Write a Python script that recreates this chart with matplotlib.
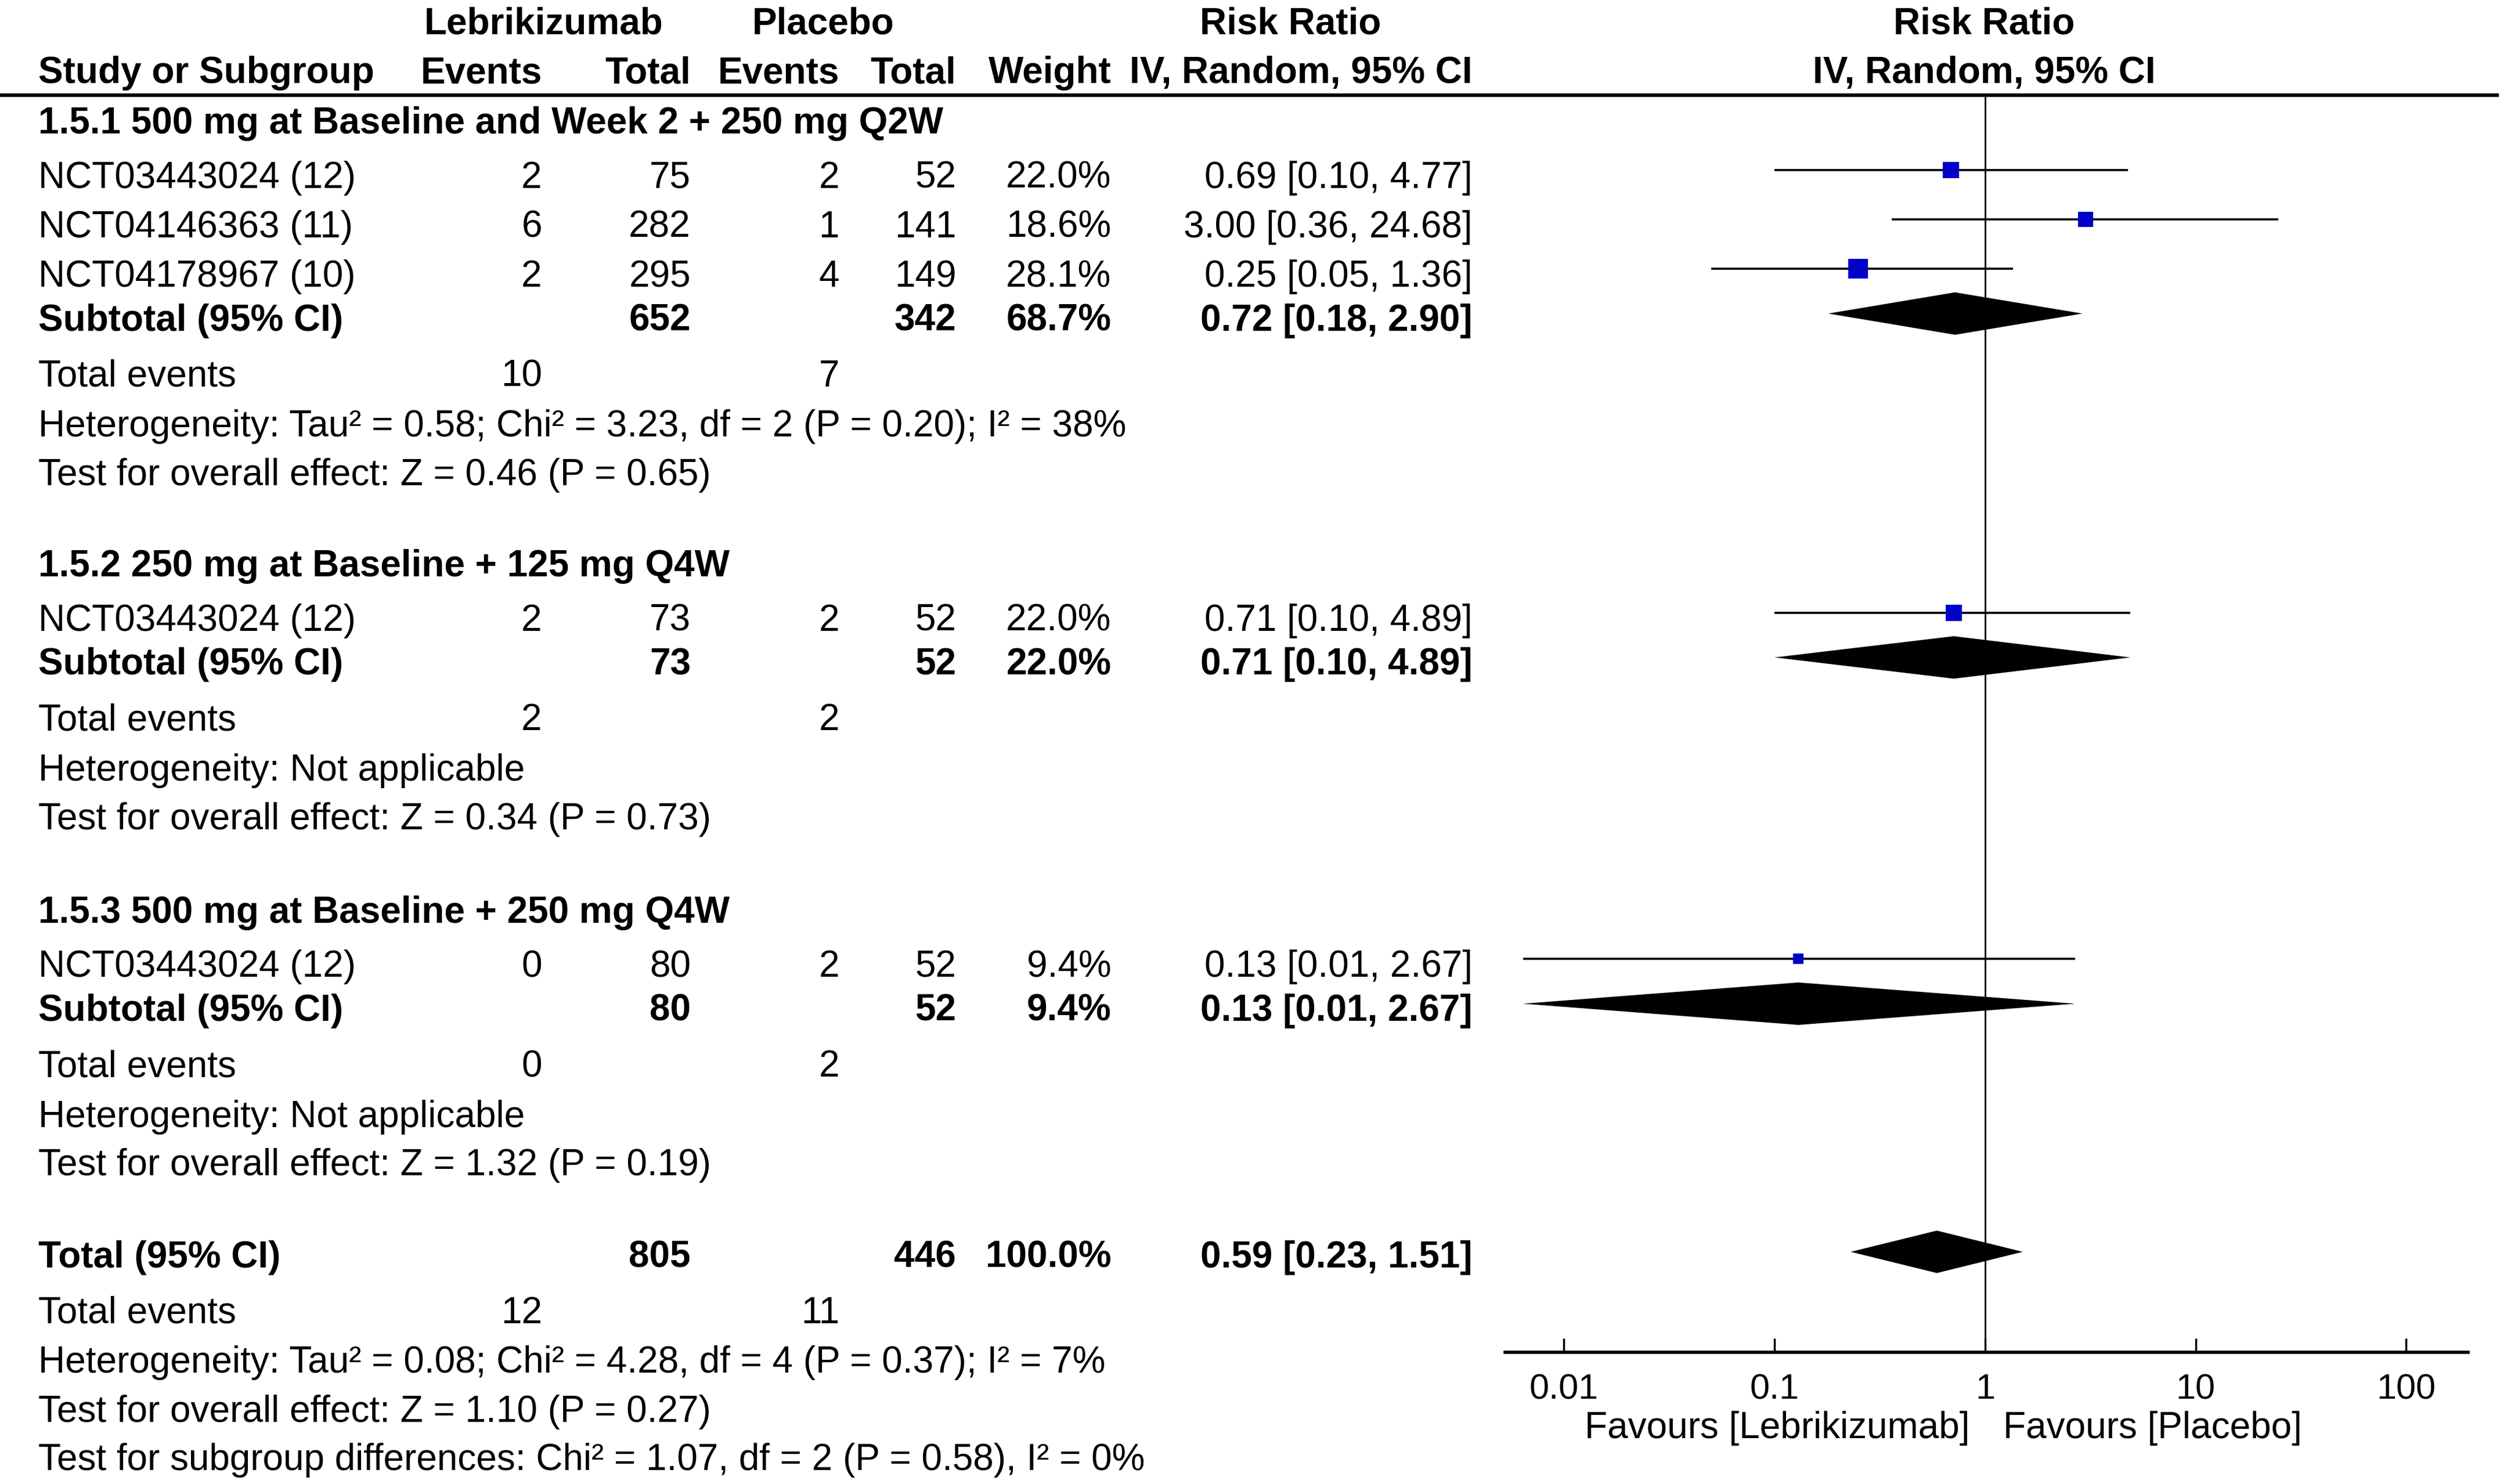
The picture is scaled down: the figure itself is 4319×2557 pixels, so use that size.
import matplotlib.pyplot as plt
from matplotlib.ticker import FixedLocator, FixedFormatter, NullLocator

plt.rcParams['font.family'] = ['Liberation Sans', 'DejaVu Sans']

# studies
studies = ['NCT03443024 (12)', 'NCT04146363 (11)', 'NCT04178967 (10)',
           'NCT03443024 (12)', 'NCT03443024 (12)']
study_group = [0, 0, 0, 1, 2]
ev_leb = [2, 6, 2, 2, 0]
n_leb = [75, 282, 295, 73, 80]
ev_pla = [2, 1, 4, 2, 2]
n_pla = [52, 141, 149, 52, 52]
weight = [22.0, 18.6, 28.1, 22.0, 9.4]
rr = [0.69, 3.00, 0.25, 0.71, 0.13]
rr_lo = [0.10, 0.36, 0.05, 0.10, 0.0064]
rr_hi = [4.77, 24.68, 1.36, 4.89, 2.67]

# subgroups
groups = ['1.5.1 500 mg at Baseline and Week 2 + 250 mg Q2W',
          '1.5.2 250 mg at Baseline + 125 mg Q4W',
          '1.5.3 500 mg at Baseline + 250 mg Q4W']
sub_n_leb = [652, 73, 80]
sub_n_pla = [342, 52, 52]
sub_weight = [68.7, 22.0, 9.4]
sub_rr = [0.72, 0.71, 0.13]
sub_lo = [0.18, 0.10, 0.0064]
sub_hi = [2.90, 4.89, 2.67]
sub_ev_leb = [10, 2, 0]
sub_ev_pla = [7, 2, 2]
sub_het = ['Heterogeneity: Tau² = 0.58; Chi² = 3.23, df = 2 (P = 0.20); I² = 38%',
           'Heterogeneity: Not applicable',
           'Heterogeneity: Not applicable']
sub_test = ['Test for overall effect: Z = 0.46 (P = 0.65)',
            'Test for overall effect: Z = 0.34 (P = 0.73)',
            'Test for overall effect: Z = 1.32 (P = 0.19)']

# overall
tot_n_leb = 805
tot_n_pla = 446
tot_weight = 100.0
tot_rr = 0.59
tot_lo = 0.23
tot_hi = 1.51
tot_ev_leb = 12
tot_ev_pla = 11
tot_het = 'Heterogeneity: Tau² = 0.08; Chi² = 4.28, df = 4 (P = 0.37); I² = 7%'
tot_test = 'Test for overall effect: Z = 1.10 (P = 0.27)'
subgroup_test = 'Test for subgroup differences: Chi² = 1.07, df = 2 (P = 0.58), I² = 0%'

tick_vals = [0.01, 0.1, 1, 10, 100]
tick_labels = ['0.01', '0.1', '1', '10', '100']

# layout (reference pixel grid)
W, H = 1568, 930
FS = 46
TXT_DY = 2
BLUE = '#0000c8'
X_LEFT = 24
C_EVL, C_NL, C_EVP, C_NP, C_W, C_CI = 339, 432, 525, 598, 695, 921
group_y = [75.5, 353, 570]
total_y = 786
HEAD_Y1, HEAD_Y2, RULE_Y, AXIS_Y = 13, 44, 59.5, 847.5
DIA_H = 13.3

fig = plt.figure(figsize=(43.19, 25.57), dpi=100)
ax = fig.add_axes([0, 0, 1, 1])
ax.set_xlim(0, W)
ax.set_ylim(H, 0)
ax.axis('off')

fx = fig.add_axes([941.4 / W, 0, (1543.6 - 941.4) / W, 1])
fx.patch.set_alpha(0)
fx.set_xscale('log')
fx.set_xlim(10 ** -2.279, 10 ** 2.293)
fx.set_ylim(H, 0)


def txt(x, y, s, ha='left', bold=False, size=FS):
    ax.text(x, y + TXT_DY, s, ha=ha, va='center', fontsize=size,
            fontweight='bold' if bold else 'normal')


def ci(v, lo, hi):
    return f'{v:.2f} [{lo:.2f}, {hi:.2f}]'


def diamond(y, v, lo, hi):
    fx.fill([lo, v, hi, v], [y, y - DIA_H, y, y + DIA_H], color='black', lw=0, zorder=3)


# headers
txt(340, HEAD_Y1, 'Lebrikizumab', ha='center', bold=True)
txt(515, HEAD_Y1, 'Placebo', ha='center', bold=True)
txt(807, HEAD_Y1, 'Risk Ratio', ha='center', bold=True)
txt(1241, HEAD_Y1, 'Risk Ratio', ha='center', bold=True)
txt(X_LEFT, HEAD_Y2, 'Study or Subgroup', bold=True)
txt(C_EVL, HEAD_Y2, 'Events', ha='right', bold=True)
txt(C_NL, HEAD_Y2, 'Total', ha='right', bold=True)
txt(C_EVP, HEAD_Y2, 'Events', ha='right', bold=True)
txt(C_NP, HEAD_Y2, 'Total', ha='right', bold=True)
txt(C_W, HEAD_Y2, 'Weight', ha='right', bold=True)
txt(C_CI, HEAD_Y2, 'IV, Random, 95% CI', ha='right', bold=True)
txt(1241, HEAD_Y2, 'IV, Random, 95% CI', ha='center', bold=True)
ax.hlines(RULE_Y, 0, 1563, color='black', lw=4.5)

for g, title in enumerate(groups):
    y = group_y[g]
    txt(X_LEFT, y, title, bold=True)
    y += 34
    idx = [i for i, sg in enumerate(study_group) if sg == g]
    for k, i in enumerate(idx):
        if k > 0:
            y += 31
        txt(X_LEFT, y, studies[i])
        txt(C_EVL, y, str(ev_leb[i]), ha='right')
        txt(C_NL, y, str(n_leb[i]), ha='right')
        txt(C_EVP, y, str(ev_pla[i]), ha='right')
        txt(C_NP, y, str(n_pla[i]), ha='right')
        txt(C_W, y, f'{weight[i]:.1f}%', ha='right')
        txt(C_CI, y, ci(rr[i], rr_lo[i], rr_hi[i]), ha='right')
        fx.hlines(y - 3, rr_lo[i], rr_hi[i], color='black', lw=2.6, zorder=2)
        fx.plot(rr[i], y - 3, marker='s', ms=(10 + 0.85 * weight[i]) * 0.72,
                color=BLUE, mec=BLUE, mew=0, zorder=4)
    y += 27.5
    txt(X_LEFT, y, 'Subtotal (95% CI)', bold=True)
    txt(C_NL, y, str(sub_n_leb[g]), ha='right', bold=True)
    txt(C_NP, y, str(sub_n_pla[g]), ha='right', bold=True)
    txt(C_W, y, f'{sub_weight[g]:.1f}%', ha='right', bold=True)
    txt(C_CI, y, ci(sub_rr[g], sub_lo[g], sub_hi[g]), ha='right', bold=True)
    diamond(y - 2.5, sub_rr[g], sub_lo[g], sub_hi[g])
    y += 35
    txt(X_LEFT, y, 'Total events')
    txt(C_EVL, y, str(sub_ev_leb[g]), ha='right')
    txt(C_EVP, y, str(sub_ev_pla[g]), ha='right')
    y += 31.5
    txt(X_LEFT, y, sub_het[g])
    y += 30.5
    txt(X_LEFT, y, sub_test[g])

y = total_y
txt(X_LEFT, y, 'Total (95% CI)', bold=True)
txt(C_NL, y, str(tot_n_leb), ha='right', bold=True)
txt(C_NP, y, str(tot_n_pla), ha='right', bold=True)
txt(C_W, y, f'{tot_weight:.1f}%', ha='right', bold=True)
txt(C_CI, y, ci(tot_rr, tot_lo, tot_hi), ha='right', bold=True)
diamond(y - 1.5, tot_rr, tot_lo, tot_hi)
y += 35
txt(X_LEFT, y, 'Total events')
txt(C_EVL, y, str(tot_ev_leb), ha='right')
txt(C_EVP, y, str(tot_ev_pla), ha='right')
txt(X_LEFT, y + 31, tot_het)
txt(X_LEFT, y + 62, tot_test)
txt(X_LEFT, y + 92, subgroup_test)

# forest axis
fx.vlines(1, RULE_Y, AXIS_Y, color='black', lw=2, zorder=1)
for s in ['left', 'right', 'top']:
    fx.spines[s].set_visible(False)
fx.spines['bottom'].set_position(('data', AXIS_Y))
fx.spines['bottom'].set_linewidth(4)
fx.xaxis.set_major_locator(FixedLocator(tick_vals))
fx.xaxis.set_major_formatter(FixedFormatter(tick_labels))
fx.xaxis.set_minor_locator(NullLocator())
fx.tick_params(axis='x', direction='in', length=17, width=2.5, pad=26, labelsize=44)
fx.set_yticks([])

txt(1232, 893, 'Favours [Lebrikizumab]', ha='right')
txt(1253, 893, 'Favours [Placebo]')

fig.savefig('out.png', dpi=100)
